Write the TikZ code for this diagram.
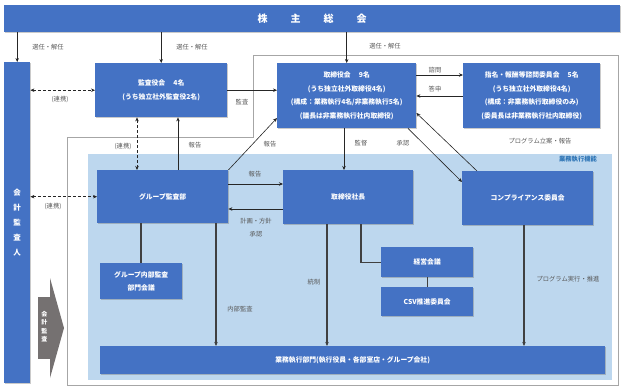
\documentclass[tikz,border=0pt]{standalone}
\usepackage{fontspec}
\setmainfont{Noto Sans CJK JP}
\usetikzlibrary{shadows,arrows.meta}
\definecolor{boxblue}{HTML}{4472C4}
\definecolor{lightblue}{HTML}{BDD7EE}
\definecolor{labgray}{HTML}{595959}
\definecolor{framegray}{HTML}{A6A6A6}
\definecolor{arrgray}{HTML}{757171}
\definecolor{fnblue}{HTML}{2E75B6}
\tikzset{
  box/.style={draw=none, fill=boxblue, text=white, font=\fontsize{6.8}{13.5}\selectfont\bfseries,
    align=center, anchor=north west, inner sep=0pt,
    drop shadow={shadow xshift=1pt, shadow yshift=-1pt, opacity=0.35, fill=black!60}},
  lab/.style={text=labgray, font=\fontsize{6.3}{12}\selectfont, inner sep=0pt, align=center},
  arr/.style={draw=black!85, line width=0.6pt, -{Stealth[length=4pt,width=3.5pt]}},
  darr/.style={draw=black!85, line width=0.6pt, densely dashed, {Stealth[length=4pt,width=3.5pt]}-{Stealth[length=4pt,width=3.5pt]}},
  vline/.style={draw=black!75, line width=1.1pt},
  varr/.style={draw=black!75, line width=1.1pt, -{Stealth[length=4pt,width=3.5pt]}},
}
\begin{document}
\begin{tikzpicture}[x=1pt,y=-1pt]
\useasboundingbox (0,0) rectangle (625,389);
% frame and area
\draw[framegray, line width=0.8pt] (253,55) -- (618,55) -- (618,385) -- (67,385) -- (67,137) -- (253,137) -- cycle;
\fill[lightblue] (88,154) rectangle (612,380);
\node[text=fnblue, font=\fontsize{6.3}{8}\selectfont\bfseries, inner sep=0pt] (fn) at (578,159) {業務執行機能};
% boxes
\node[box, minimum width=616pt, minimum height=27pt, font=\fontsize{10}{12}\selectfont\bfseries] (top) at (4,5)
  {株\hspace{23pt}主\hspace{23pt}総\hspace{23pt}会};
\node[box, minimum width=26pt, minimum height=321pt, font=\fontsize{7.5}{15}\selectfont\bfseries] (kaikei) at (4,62)
  {会\\計\\監\\査\\人};
\node[box, minimum width=132pt, minimum height=54pt] (kansa) at (95,63)
  {監査役会\hspace{1.2em}4名\\(うち独立社外監査役2名)};
\node[box, minimum width=139pt, minimum height=65pt] (tori) at (277,63)
  {取締役会\hspace{1.2em}9名\\(うち独立社外取締役4名)\\(構成：業務執行4名/非業務執行5名)\\(議長は非業務執行社内取締役)};
\node[box, minimum width=137pt, minimum height=65pt] (shimei) at (463,63)
  {指名・報酬等諮問委員会\hspace{1.2em}5名\\(うち独立社外取締役4名)\\(構成：非業務執行取締役のみ)\\(委員長は非業務執行社内取締役)};
\node[box, minimum width=131pt, minimum height=53pt] (gaudit) at (97,170) {グループ監査部};
\node[box, minimum width=130pt, minimum height=54pt] (shacho) at (283,170) {取締役社長};
\node[box, minimum width=131pt, minimum height=54pt] (comp) at (462,171) {コンプライアンス委員会};
\node[box, minimum width=92pt, minimum height=30pt] (keiei) at (381,247) {経営会議};
\node[box, minimum width=92pt, minimum height=29pt] (csv) at (381,287) {CSV推進委員会};
\node[box, minimum width=82pt, minimum height=36pt, font=\fontsize{6.8}{12.5}\selectfont\bfseries] (gnaibu) at (100,263) {グループ内部監査\\部門会議};
\node[box, minimum width=505pt, minimum height=28pt] (gyomu) at (100,346) {業務執行部門(執行役員・各部室店・グループ会社)};
% gray arrow
\fill[arrgray] (38,297) rectangle (50.5,359);
\fill[arrgray] (50,278) -- (64,328) -- (50,378) -- cycle;
\node[text=white, font=\fontsize{6}{8.5}\selectfont\bfseries, align=center, inner sep=0pt] (kaikeikansa) at (44.5,326.5) {会\\計\\監\\査};
% connectors from top
\draw[arr] (top.south -| kaikei) -- (kaikei.north);
\draw[arr] (top.south -| kansa) -- (kansa.north);
\draw[arr] (top.south -| tori) -- (tori.north);
\node[lab] (l1) at (48,47) {選任・解任};
\node[lab] (l2) at (192,47) {選任・解任};
\node[lab] (l3) at (385,46) {選任・解任};
% kaikei links
\draw[darr] (kaikei.east |- kansa.west) -- (kansa.west);
\node[lab] (l4) at (60,99) {(連携)};
\draw[darr] (kaikei.east |- gaudit.west) -- (gaudit.west);
\node[lab] (l5) at (53,206) {(連携)};
% kansa -> tori
\draw[arr] (kansa.east) -- (kansa.east -| tori.west);
\node[lab] (l6) at (242,102) {監査};
% tori <-> shimei
\coordinate (a1) at ([yshift=-12pt]tori.north east);
\coordinate (a2) at ([yshift=-33pt]tori.north east);
\draw[arr] (a1) -- (a1 -| shimei.west);
\draw[arr] (a2 -| shimei.west) -- (a2);
\node[lab] (l7) at (435,70) {諮問};
\node[lab] (l8) at (435,89) {答申};
% kansa <-> gaudit
\coordinate (b1) at ([xshift=40pt]gaudit.north west);
\coordinate (b2) at ([xshift=81pt]gaudit.north west);
\draw[darr] (b1) -- (b1 |- kansa.south);
\draw[arr] (b2) -- (b2 |- kansa.south);
\node[lab] (l9) at (123,146) {(連携)};
\node[lab] (l10) at (195,145) {報告};
% gaudit -> tori
\coordinate (b3) at ([yshift=-55pt]tori.north west);
\draw[arr] (gaudit.north east) -- (b3);
\node[lab] (l11) at (270,144) {報告};
% gaudit <-> shacho
\coordinate (c1) at ([yshift=-14pt]gaudit.north east);
\coordinate (c2) at ([yshift=-39pt]gaudit.north east);
\draw[arr] (c1) -- (c1 -| shacho.west);
\draw[arr] (c2 -| shacho.west) -- (c2);
\node[lab] (l12) at (255,174) {報告};
\node[lab, font=\fontsize{6.3}{13}\selectfont] (l13) at (256,227.5) {計画・方針\\承認};
% tori -> shacho
\coordinate (d1) at ([xshift=67pt]tori.south west);
\draw[arr] (d1) -- (d1 |- shacho.north);
\node[lab] (l14) at (361,143) {監督};
% tori <-> comp
\coordinate (d2) at ([xshift=131pt]tori.south west);
\coordinate (d3) at ([yshift=-11pt]comp.north west);
\draw[arr] (d2) -- (d3);
\node[lab] (l15) at (403,143) {承認};
\coordinate (d4) at ([xshift=15pt]comp.north west);
\coordinate (d5) at ([yshift=-50pt]tori.north east);
\draw[arr] (d4) -- (d5);
\node[lab] (l16) at (540,141) {プログラム立案・報告};
% down lines
\coordinate (e1) at ([xshift=44pt]gaudit.south west);
\draw[vline] (e1) -- (e1 |- gnaibu.north);
\coordinate (e2) at ([xshift=119pt]gaudit.south west);
\draw[varr] (e2) -- (e2 |- gyomu.north);
\node[lab] (l17) at (240,309) {内部監査};
\coordinate (e3) at ([xshift=44pt]shacho.south west);
\draw[varr] (e3) -- (e3 |- gyomu.north);
\node[lab] (l18) at (314,282) {統制};
\coordinate (e4) at ([xshift=78pt]shacho.south west);
\draw[vline] (e4) -- (e4 |- keiei.west) -- (keiei.west);
\draw[vline] (keiei.south) -- (csv.north);
\coordinate (e5) at ([xshift=62pt]comp.south west);
\draw[varr] (e5) -- (e5 |- gyomu.north);
\node[lab] (l19) at (568,279) {プログラム実行・推進};
\end{tikzpicture}
\end{document}
